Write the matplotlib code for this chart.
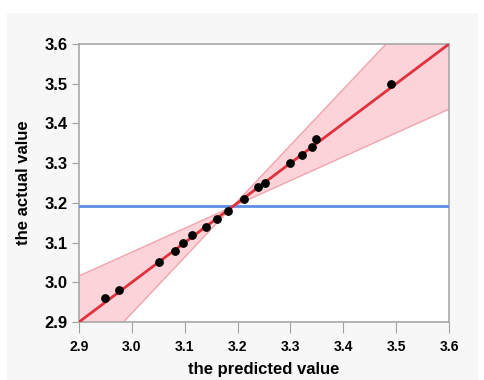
import numpy as np
import matplotlib.pyplot as plt
from matplotlib.patches import Rectangle

# predicted vs actual values
predicted = [2.95, 2.975, 3.051, 3.082, 3.097, 3.114, 3.140, 3.161, 3.182,
             3.212, 3.239, 3.252, 3.299, 3.322, 3.341, 3.348, 3.490]
actual = [2.96, 2.98, 3.05, 3.08, 3.10, 3.12, 3.14, 3.16, 3.18,
          3.21, 3.24, 3.25, 3.30, 3.32, 3.34, 3.36, 3.50]

fit_slope = 1.0
fit_intercept = 0.0
mean_actual = 3.192
band_center = 3.19
band_slopes = [0.6, 1.41]
ticks = [2.9, 3.0, 3.1, 3.2, 3.3, 3.4, 3.5, 3.6]

plt.rcParams['font.family'] = ['Liberation Sans', 'DejaVu Sans']

fig = plt.figure(figsize=(4.84, 3.8), dpi=100)
fig.patch.set_facecolor('white')
fig.patches.append(Rectangle((7/484, 0), 471/484, 367/380, transform=fig.transFigure,
                             facecolor='#f7f7f7', edgecolor='none', zorder=-10))

ax = fig.add_axes([79/484, 58/380, 370/484, 278/380])
ax.set_facecolor('white')

xs = np.linspace(2.9, 3.6, 200)
b1 = band_center + band_slopes[0] * (xs - band_center)
b2 = band_center + band_slopes[1] * (xs - band_center)
lo = np.minimum(b1, b2)
hi = np.maximum(b1, b2)
ax.fill_between(xs, lo, hi, color='#fbd3d9', linewidth=0, zorder=1)
ax.plot(xs, b1, color='#f0a5ae', lw=1, zorder=2)
ax.plot(xs, b2, color='#f0a5ae', lw=1, zorder=2)

ax.axhline(mean_actual, color='#5b8de8', lw=2, zorder=3)
ax.plot(xs, fit_intercept + fit_slope * xs, color='#e0323c', lw=2, zorder=4)
ax.scatter(predicted, actual, s=28, color='black', zorder=5)

ax.set_xlim(2.9, 3.6)
ax.set_ylim(2.9, 3.6)
ax.set_xticks(ticks)
ax.set_yticks(ticks)
ax.set_xticklabels(['%.1f' % t for t in ticks], fontsize=10, fontweight='bold')
ax.set_yticklabels(['%.1f' % t for t in ticks], fontsize=12, fontweight='bold')
ax.tick_params(axis='x', length=8, color='#a0a0a0', pad=5)
ax.tick_params(axis='y', length=5, color='#a0a0a0', pad=3)
for s in ax.spines.values():
    s.set_color('#a8a8a8')
    s.set_linewidth(1.2)

ax.set_xlabel('the predicted value', fontsize=12, fontweight='bold', labelpad=6)
ax.set_ylabel('the actual value', fontsize=12, fontweight='bold', labelpad=10)

fig.savefig('out.png', dpi=100)
